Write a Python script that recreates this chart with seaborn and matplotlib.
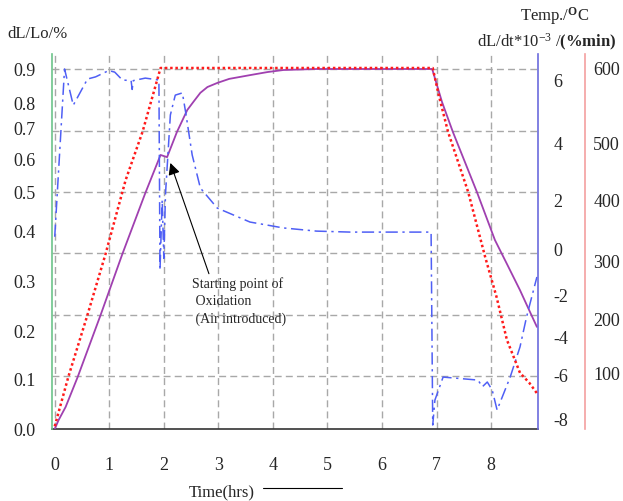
import numpy as np
import matplotlib
matplotlib.use("Agg")
import matplotlib.pyplot as plt
from matplotlib.lines import Line2D
import seaborn as sns

sns.set_theme(style="white")
plt.rcParams['font.family'] = ['Liberation Serif', 'DejaVu Serif']
plt.rcParams['mathtext.fontset'] = 'custom'
plt.rcParams['mathtext.rm'] = 'Liberation Serif'
plt.rcParams['mathtext.bf'] = 'Liberation Serif:bold'
plt.rcParams['mathtext.it'] = 'Liberation Serif:italic'

# dL/Lo (%) - purple solid
time_dl = [0.0, 0.07, 0.2, 0.42, 0.84, 1.24, 1.66, 1.94, 2.06, 2.24, 2.43, 2.55, 2.67, 2.8,
           2.98, 3.2, 3.58, 3.9, 4.19, 4.8, 6.92, 7.1, 7.30, 7.74, 8.07, 8.3, 8.53, 8.68, 8.84]
dl_lo = [0.0, 0.018, 0.045, 0.106, 0.233, 0.354, 0.497, 0.613, 0.606, 0.687, 0.772, 0.805, 0.83, 0.847,
         0.859, 0.871, 0.882, 0.891, 0.897, 0.9, 0.9, 0.803, 0.687, 0.5, 0.382, 0.332, 0.282, 0.247, 0.21]

# temperature (C) - red dotted
time_temp = [0.0, 0.25, 0.6, 0.93, 1.3, 1.61, 1.94, 6.93, 7.04, 7.21, 7.58, 7.89, 8.1,
             8.29, 8.53, 8.7, 8.84]
temp = [5, 95, 207, 311, 435, 515, 600, 600, 564, 515, 414, 307, 238,
        162, 102, 84, 65]

# dL/dt * 1e-3 (%/min) - blue dash-dot
time_rate = [0.0, 0.18, 0.34, 0.6, 0.75, 0.99, 1.1, 1.24, 1.4, 1.42, 1.44, 1.66, 1.91,
             1.93, 1.97, 2.0, 2.03, 2.12, 2.21, 2.34, 2.4, 2.52, 2.67, 2.98, 3.58, 4.19,
             4.8, 5.42, 6.9, 6.93, 6.97, 7.12, 7.76, 7.84, 7.93, 8.02, 8.11, 8.35, 8.53,
             8.65, 8.84]
rate = [0.5, 6.35, 5.2, 6.03, 6.1, 6.3, 6.25, 6.0, 5.98, 5.7, 5.98, 6.06, 6.0,
        -0.9, 2.0, -0.4, 2.18, 4.89, 5.52, 5.59, 4.98, 3.58, 2.42, 1.67, 1.1, 0.86,
        0.73, 0.69, 0.69, -8.28, -7.12, -6.05, -6.19, -6.5, -6.28, -6.65, -7.58, -6.05, -4.47,
        -3.0, -1.19]

# axis tick labels
dl_ticks = [0.0, 0.1, 0.2, 0.3, 0.4, 0.5, 0.6, 0.7, 0.8, 0.9]
rate_ticks = [-8, -6, -4, -2, 0, 2, 4, 6]
temp_ticks = [100, 200, 300, 400, 500, 600]
time_ticks = [0, 1, 2, 3, 4, 5, 6, 7, 8]

# the original labels are hand placed, so each axis gets its own piecewise scale
# (label heights in pixels from the top of the image)
PLOT_BOTTOM, PLOT_TOP = 429, 54
dl_tick_px = [429, 380, 332, 281, 231, 192, 159, 128, 103, 69]
rate_tick_px = [419, 376, 338, 296, 249, 200, 143, 80]
temp_tick_px = [374, 319, 261, 200, 143, 68]
grid_px = [376, 315, 253, 192, 131, 69]


def piecewise(vals, px):
    vals = np.asarray(vals, float)
    pos = PLOT_BOTTOM - np.asarray(px, float)
    lo = (pos[1] - pos[0]) / (vals[1] - vals[0])
    hi = (pos[-1] - pos[-2]) / (vals[-1] - vals[-2])

    def fwd(v):
        v = np.asarray(v, float)
        out = np.interp(v, vals, pos)
        out = np.where(v < vals[0], pos[0] + (v - vals[0]) * lo, out)
        return np.where(v > vals[-1], pos[-1] + (v - vals[-1]) * hi, out)

    def inv(p):
        p = np.asarray(p, float)
        out = np.interp(p, pos, vals)
        out = np.where(p < pos[0], vals[0] + (p - pos[0]) / lo, out)
        return np.where(p > pos[-1], vals[-1] + (p - pos[-1]) / hi, out)

    return fwd, inv


fig = plt.figure(figsize=(6.23, 5.01), dpi=100)
height = PLOT_BOTTOM - PLOT_TOP
host = fig.add_axes([52 / 623, 1 - PLOT_BOTTOM / 501, (538 - 52) / 623, height / 501])
host.set_xlim(-0.05, 8.86)
host.set_ylim(0, height)
host.set_yticks(PLOT_BOTTOM - np.array(grid_px))
host.set_yticklabels([])
host.set_xticks(time_ticks)
host.set_xticklabels([str(t) for t in time_ticks])
host.grid(True, color='#a8a8a8', linestyle=(0, (5, 3)), linewidth=1.0)
host.tick_params(axis='y', length=0)
host.tick_params(axis='x', direction='in', length=4, width=1, color='#aaaaaa', pad=20, labelsize=13)
for s in ['left', 'right', 'top']:
    host.spines[s].set_visible(False)
host.spines['bottom'].set_color('#333333')
host.spines['bottom'].set_linewidth(1.2)

ax_l = host.twinx()
ax_b = host.twinx()
ax_r = host.twinx()
ax_l.yaxis.tick_left()
for a in (ax_l, ax_b, ax_r):
    for s in a.spines.values():
        s.set_visible(False)

sns.lineplot(x=time_dl, y=dl_lo, ax=ax_l, color='#a040b0', lw=1.3, sort=False, estimator=None)
sns.lineplot(x=time_rate, y=rate, ax=ax_b, color='#4f5ff5', lw=1.1,
             linestyle=(0, (8, 3, 1.5, 3)), sort=False, estimator=None)
sns.lineplot(x=time_temp, y=temp, ax=ax_r, color='#ff1a1a', lw=1.8,
             linestyle=(0, (1, 1.1)), sort=False, estimator=None)

for a, ticks, px, fmt in [(ax_l, dl_ticks, dl_tick_px, '{:.1f}'),
                          (ax_b, rate_ticks, rate_tick_px, '{:d}'),
                          (ax_r, temp_ticks, temp_tick_px, '{:d}')]:
    fwd, inv = piecewise(ticks, px)
    a.set_yscale('function', functions=(fwd, inv))
    a.set_ylim(float(inv(0.0)), float(inv(float(height))))
    a.set_yticks(ticks)
    a.set_yticklabels([fmt.format(t) for t in ticks])
    a.minorticks_off()
    a.set_xlabel('')
    a.set_ylabel('')

ax_l.spines['left'].set_visible(True)
ax_l.spines['left'].set_color('#6cc48a')
ax_l.spines['left'].set_linewidth(1.2)
ax_l.tick_params(axis='y', length=0, pad=12, labelsize=13)

ax_b.spines['right'].set_visible(True)
ax_b.spines['right'].set_color('#6b6bdd')
ax_b.spines['right'].set_linewidth(1.2)
ax_b.tick_params(axis='y', length=0, pad=11, labelsize=13)

ax_r.spines['right'].set_visible(True)
ax_r.spines['right'].set_position(('outward', 33.8))
ax_r.spines['right'].set_color('#f4a0a0')
ax_r.spines['right'].set_linewidth(1.2)
ax_r.tick_params(axis='y', length=0, pad=6, labelsize=13)

ax_l.annotate("Starting point of\n Oxidation\n (Air introduced)",
              xy=(2.12, 0.588), xytext=(2.52, 0.308), ha='left', va='top',
              fontsize=10, linespacing=1.45,
              arrowprops=dict(arrowstyle='-|>,head_length=0.5,head_width=0.25', color='black',
                              lw=0.8, mutation_scale=14, relpos=(0.19, 1.0),
                              shrinkA=0, shrinkB=0))

fig.text(7 / 623, 1 - 34 / 501, "dL/Lo/%", ha='left', va='center', fontsize=12)
fig.text(555 / 623, 1 - 16 / 501, r"Temp./$^{\mathbf{O}}$C", ha='center', va='center', fontsize=12)
fig.text(547 / 623, 1 - 42 / 501, r"dL/dt*10$^{-3}$ /$\mathbf{(\%min)}$",
         ha='center', va='center', fontsize=12)
fig.text(222 / 623, 1 - 492 / 501, "Time(hrs)", ha='center', va='center', fontsize=12)
fig.add_artist(Line2D([263 / 623, 342 / 623], [1 - 488 / 501, 1 - 488 / 501],
                      color='black', lw=0.8, transform=fig.transFigure))

fig.savefig('out.png', dpi=100)
